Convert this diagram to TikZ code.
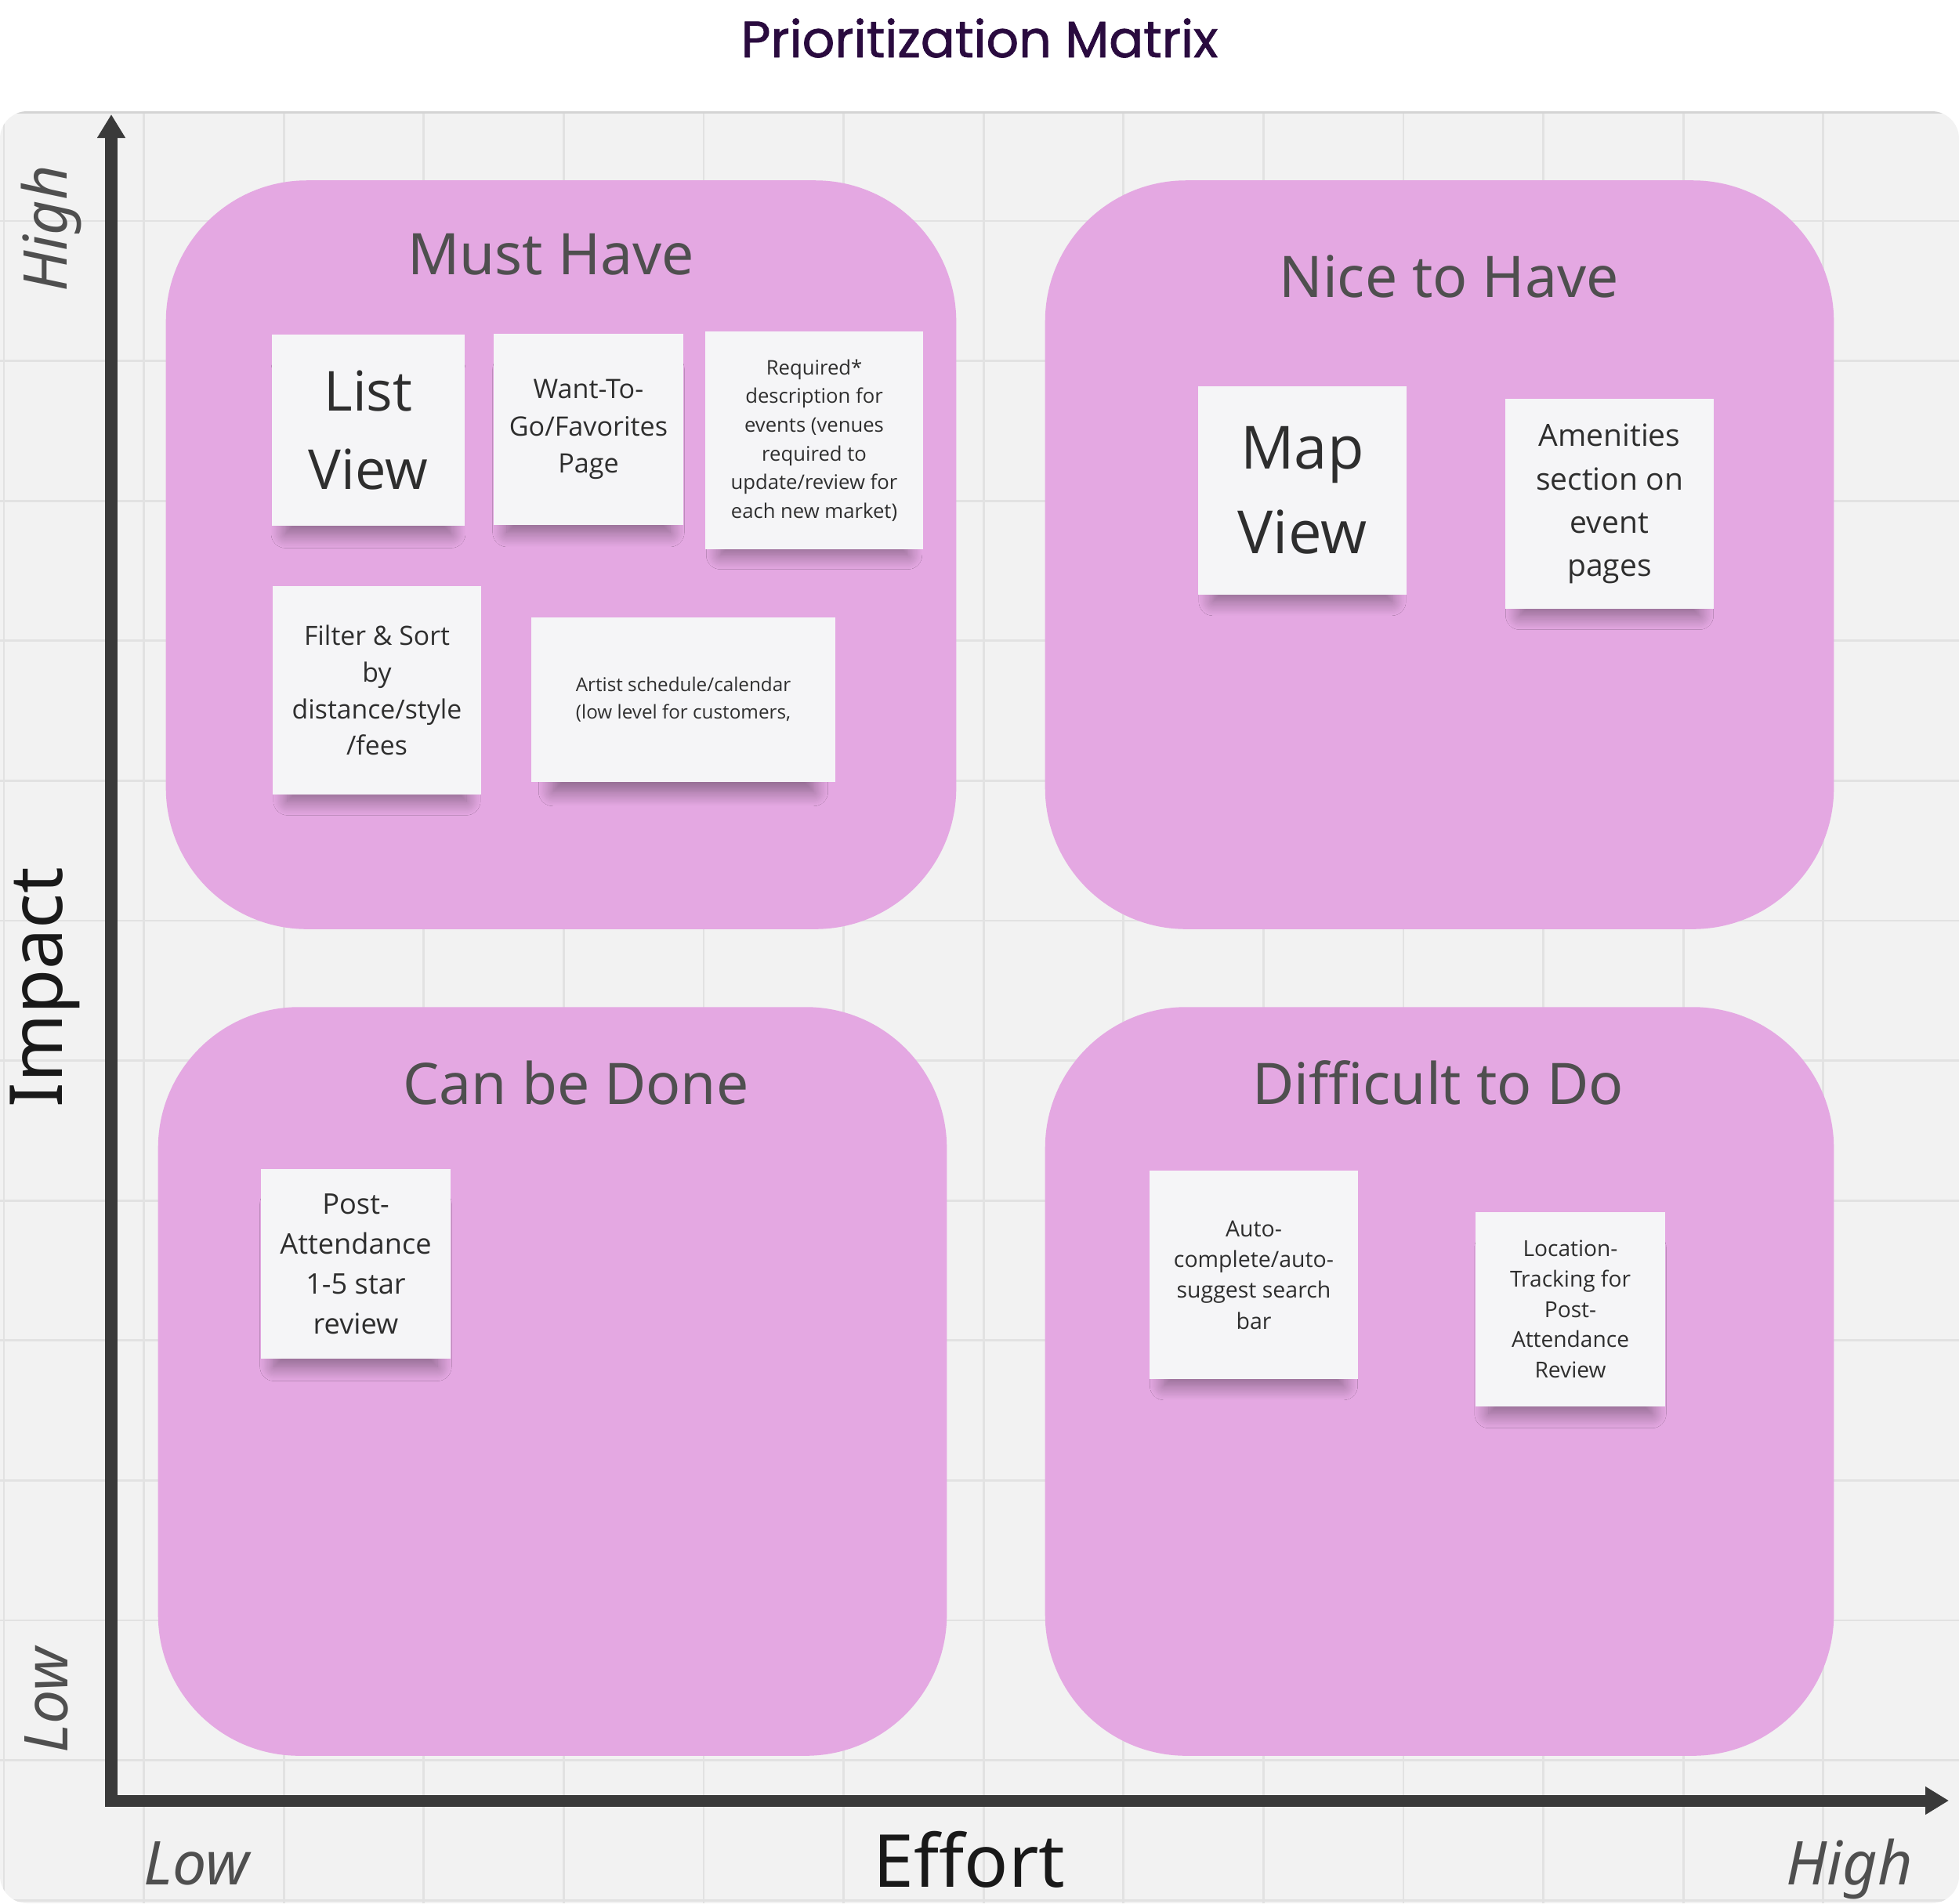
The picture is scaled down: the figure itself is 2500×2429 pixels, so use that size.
\documentclass[tikz,border=0pt]{standalone}
\usepackage{fontspec}
\setmainfont{Open Sans}
\newfontfamily\lblfont{Noto Sans}
\newfontfamily\ttlfont{Poppins}[RawFeature={embolden=1.2}]
\usetikzlibrary{arrows.meta,shadows.blur}
\definecolor{boardgray}{HTML}{F2F2F2}
\definecolor{gridgray}{HTML}{E2E2E2}
\definecolor{quadpink}{HTML}{E4A8E2}
\definecolor{notewhite}{HTML}{F5F5F7}
\definecolor{inkgray}{HTML}{4F4F4F}
\definecolor{axisgray}{HTML}{3A3A3A}
\definecolor{titlepurple}{HTML}{2A0B3F}
\definecolor{notetext}{HTML}{2E2E2E}
\newcommand{\fsz}[2]{\fontsize{#1}{#2}\selectfont}

\begin{document}
\begin{tikzpicture}[x=0.01cm,y=-0.01cm,
  quadbox/.style={fill=quadpink,rounded corners=1.8cm,inner sep=0pt},
  note/.style={fill=notewhite,inner sep=0pt,align=center,text=notetext,
    blur shadow={shadow xshift=0pt,shadow yshift=-9pt,shadow scale=0.86,
      shadow opacity=40,shadow blur radius=6pt,shadow blur steps=16}},
  quadtitle/.style={anchor=base,text=inkgray,font=\lblfont\fsz{20.8}{25}},
  axlabel/.style={anchor=base,text=inkgray,font=\lblfont\itshape\fsz{21.9}{26}},
  axname/.style={anchor=base,text=black!90,font=\lblfont\fsz{26.5}{32}},
  axisline/.style={draw=axisgray,line width=0.15cm,-{Triangle[length=0.3cm,width=0.34cm]}},
  gridline/.style={draw=gridgray,line width=0.8pt}
]
\fill[white] (0,0) rectangle (2500,2429);
\useasboundingbox (0,0) rectangle (2500,2429);

% board and grid
\fill[boardgray,rounded corners=0.35cm] (0,142) rectangle (2500,2429);
\begin{scope}
  \clip[rounded corners=0.35cm] (0,142) rectangle (2500,2429);
  \foreach \gx in {0,...,13}
    \draw[gridline] ({5+178.6*\gx},142) -- ++(0,2300);
  \foreach \gy in {0,...,12}
    \draw[gridline] (0,{282+178.6*\gy}) -- ++(2500,0);
  \draw[black!17,line width=1pt] (0,143) -- (2500,143);
\end{scope}

\node[anchor=base,text=titlepurple,font=\ttlfont\fsz{18.5}{22}] (title) at (1250,73) {Prioritization Matrix};

% quadrants
\node[quadbox,minimum width=10.08cm,minimum height=9.55cm] (musthave) at (716,708) {};
\node[quadbox,minimum width=10.06cm,minimum height=9.55cm] (nicehave) at (1837,708) {};
\node[quadbox,minimum width=10.06cm,minimum height=9.55cm] (canbedone) at (705,1763) {};
\node[quadbox,minimum width=10.06cm,minimum height=9.55cm] (difficult) at (1837,1763) {};

\node[quadtitle] (musttitle) at (703,350) {Must Have};
\node[quadtitle] (nicetitle) at (1849,379) {Nice to Have};
\node[quadtitle] (cantitle) at (735,1409) {Can be Done};
\node[quadtitle] (difftitle) at (1835,1409) {Difficult to Do};

% axes
\coordinate (origin) at (142,2298);
\coordinate (ytop) at (142,146);
\coordinate (xend) at (2487,2298);
\draw[axisline] ([yshift=-0.075cm]origin) -- (ytop);
\draw[axisline] ([xshift=-0.075cm]origin) -- (xend);

\node[axname,rotate=90] (impact) at (80,1260) {Impact};
\node[axname] (effort) at (1237,2408) {Effort};
\node[axlabel,rotate=90] (impacthigh) at (85,292) {High};
\node[axlabel,rotate=90] (impactlow) at (86,2170) {Low};
\node[axlabel] (effortlow) at (251,2405) {Low};
\node[axlabel] (efforthigh) at (2360,2405) {High};

% sticky notes
\node[note,minimum width=2.46cm,minimum height=2.44cm,font=\fsz{20}{28.5}] (listview) at (470,549) {List\\View};
\node[note,minimum width=2.42cm,minimum height=2.43cm,font=\fsz{9.7}{13.4}] (wantgo) at (751,548) {Want-To-\\Go/Favorites\\Page};
\node[note,minimum width=2.78cm,minimum height=2.77cm,font=\fsz{7.3}{10.4}] (reqdesc) at (1039,562) {Required*\\description for\\events (venues\\required to\\update/review for\\each new market)};
\node[note,minimum width=2.65cm,minimum height=2.65cm,font=\fsz{9.6}{13.3}] (filtsort) at (481,881) {Filter \& Sort\\by\\distance/style\\/fees};
\node[note,minimum width=3.87cm,minimum height=2.10cm,font=\fsz{6.9}{10}] (artist) at (872,893) {Artist schedule/calendar\\(low level for customers,};
\node[note,minimum width=2.65cm,minimum height=2.66cm,font=\fsz{21.6}{30.8}] (mapview) at (1662,626) {Map\\View};
\node[note,minimum width=2.66cm,minimum height=2.68cm,font=\fsz{11.1}{15.7}] (amenities) at (2054,643) {Amenities\\section on\\event\\pages};
\node[note,minimum width=2.42cm,minimum height=2.42cm,font=\fsz{10.3}{14.5}] (postreview) at (454,1613) {Post-\\Attendance\\1-5 star\\review};
\node[note,minimum width=2.66cm,minimum height=2.66cm,font=\fsz{8.1}{11.2}] (autosearch) at (1600,1627) {Auto-\\complete/auto-\\suggest search\\bar};
\node[note,minimum width=2.42cm,minimum height=2.47cm,font=\fsz{8}{11}] (loctrack) at (2004,1671) {Location-\\Tracking for\\Post-\\Attendance\\Review};
\end{tikzpicture}
\end{document}
